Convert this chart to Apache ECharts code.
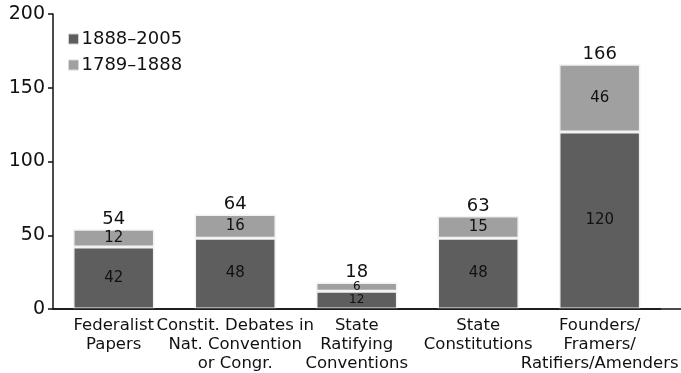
<!DOCTYPE html>
<html>
<head>
<meta charset="utf-8">
<script src="https://cdn.jsdelivr.net/npm/echarts@6/dist/echarts.min.js"></script>
<style>
  html, body { margin: 0; padding: 0; background: #fff; }
  #chart { width: 681px; height: 373px; }
</style>
</head>
<body>
<div id="chart"></div>
<script>
// Source categories and counts per period
const categories = [
  'Federalist\nPapers',
  'Constit. Debates in\nNat. Convention\nor Congr.',
  'State\nRatifying\nConventions',
  'State\nConstitutions',
  'Founders/\nFramers/\nRatifiers/Amenders'
];
const later = [42, 48, 12, 48, 120];   // 1888–2005
const earlier = [12, 16, 6, 15, 46];   // 1789–1888
const yTicks = [0, 50, 100, 150, 200];

const totals = later.map((v, i) => v + earlier[i]);
const FONT = 'DejaVu Sans';
const smallIdx = 2;

const chart = echarts.init(document.getElementById('chart'));

function segData(arr) {
  return arr.map((v, i) => i === smallIdx
    ? { value: v, label: { fontSize: 12 } }
    : v);
}

chart.setOption({
  animation: false,
  textStyle: { fontFamily: FONT },
  grid: { left: 53, right: 15, top: 14, bottom: 63, containLabel: false },
  legend: {
    left: 63, top: 25, orient: 'vertical',
    itemWidth: 10, itemHeight: 10, itemGap: 8,
    icon: 'rect',
    textStyle: { fontFamily: FONT, fontSize: 18, color: '#111', padding: [0, 0, 0, -2] },
    data: [
      { name: '1888–2005', itemStyle: { color: '#5e5e5e', borderColor: '#d0d0d0', borderWidth: 1 } },
      { name: '1789–1888', itemStyle: { color: '#a0a0a0', borderColor: '#d8d8d8', borderWidth: 1 } }
    ]
  },
  xAxis: {
    type: 'category',
    data: categories,
    axisLine: { lineStyle: { color: '#111', width: 1.5 } },
    axisTick: { show: false },
    axisLabel: {
      interval: 0, color: '#111', fontFamily: FONT, fontSize: 16.5,
      lineHeight: 19, margin: 7, align: 'center'
    }
  },
  yAxis: {
    type: 'value',
    min: yTicks[0], max: yTicks[yTicks.length - 1], interval: 50,
    splitLine: { show: false },
    axisLine: { show: true, lineStyle: { color: '#111', width: 1.5 } },
    axisTick: { show: true, length: 5, lineStyle: { color: '#111', width: 1.5 } },
    axisLabel: { color: '#111', fontFamily: FONT, fontSize: 19, margin: 8 }
  },
  series: [
    {
      name: '1888–2005', type: 'bar', stack: 'total', barWidth: '67%',
      data: segData(later),
      itemStyle: { color: '#5e5e5e', borderColor: '#f2f2f2', borderWidth: 1.5 },
      label: { show: true, position: 'inside', color: '#111', fontSize: 15, fontFamily: FONT }
    },
    {
      name: '1789–1888', type: 'bar', stack: 'total',
      data: segData(earlier),
      itemStyle: { color: '#a0a0a0', borderColor: '#f2f2f2', borderWidth: 1.5 },
      label: { show: true, position: 'inside', color: '#111', fontSize: 15, fontFamily: FONT }
    },
    {
      name: 'total', type: 'bar', stack: 'total',
      data: totals.map(() => 0),
      itemStyle: { color: 'transparent' },
      label: {
        show: true, position: 'top', distance: 1, color: '#111',
        fontSize: 18, fontFamily: FONT,
        formatter: p => String(totals[p.dataIndex])
      },
      tooltip: { show: false }
    }
  ]
});

// Extend the baseline to the right edge of the canvas
const y0 = chart.convertToPixel({ yAxisIndex: 0 }, 0);
chart.setOption({
  graphic: [{
    type: 'line',
    shape: { x1: 53, y1: y0, x2: 681, y2: y0 },
    style: { stroke: '#111', lineWidth: 1.5 },
    z: 10
  }]
});
</script>
</body>
</html>
